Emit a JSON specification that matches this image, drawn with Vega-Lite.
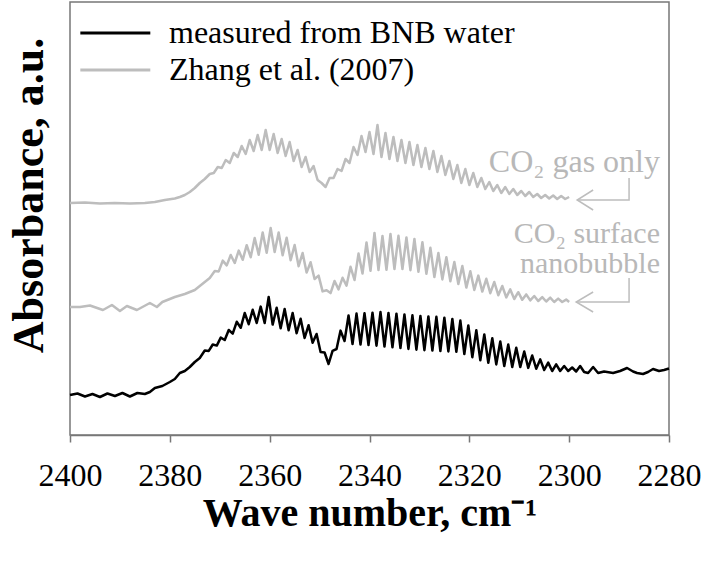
{
  "$schema": "https://vega.github.io/schema/vega-lite/v6.json",
  "width": 599,
  "height": 433,
  "autosize": {"type": "none"},
  "padding": {"left": 70, "top": 2, "right": 39, "bottom": 127},
  "background": "white",
  "config": {
    "font": "Liberation Serif",
    "axis": {"labelFont": "Liberation Serif", "titleFont": "Liberation Serif"},
    "legend": {"labelFont": "Liberation Serif"},
    "view": {"stroke": "#777777", "strokeWidth": 1.5}
  },
  "datasets": {
    "curves": [
      {"c":"g","w":2400,"a":232},{"c":"g","w":2397,"a":232.5},{"c":"g","w":2394,"a":231.5},{"c":"g","w":2391,"a":232},{"c":"g","w":2388,"a":231.5},{"c":"g","w":2385,"a":232},{"c":"g","w":2383,"a":233},{"c":"g","w":2381,"a":235},{"c":"g","w":2379,"a":236.5},{"c":"g","w":2378,"a":238},{"c":"g","w":2377,"a":240},{"c":"g","w":2376,"a":243},{"c":"g","w":2375,"a":247},{"c":"g","w":2374,"a":252},{"c":"g","w":2373,"a":256},
      {"c":"g","w":2372,"a":261},{"c":"g","w":2371.2,"a":262},{"c":"g","w":2370.4,"a":268},{"c":"g","w":2369.6,"a":267},{"c":"g","w":2368.8,"a":275},{"c":"g","w":2368,"a":272},{"c":"g","w":2367.2,"a":282},{"c":"g","w":2366.4,"a":278},{"c":"g","w":2365.6,"a":289},{"c":"g","w":2364.8,"a":281},{"c":"g","w":2364,"a":295},{"c":"g","w":2363.2,"a":284},{"c":"g","w":2362.4,"a":300},{"c":"g","w":2361.6,"a":285},{"c":"g","w":2360.8,"a":305},{"c":"g","w":2360,"a":285},{"c":"g","w":2359.2,"a":301},{"c":"g","w":2358.4,"a":282},{"c":"g","w":2357.6,"a":296},{"c":"g","w":2356.8,"a":279},{"c":"g","w":2356,"a":293},{"c":"g","w":2355.2,"a":274},{"c":"g","w":2354.4,"a":285},{"c":"g","w":2353.6,"a":268},{"c":"g","w":2352.8,"a":278},{"c":"g","w":2352,"a":263},{"c":"g","w":2351.2,"a":269},{"c":"g","w":2350.4,"a":255},{"c":"g","w":2349.6,"a":252},{"c":"g","w":2348.8,"a":248},{"c":"g","w":2348,"a":257},{"c":"g","w":2347.2,"a":257},{"c":"g","w":2346.4,"a":266},{"c":"g","w":2345.6,"a":264},{"c":"g","w":2344.8,"a":276},{"c":"g","w":2344,"a":272},{"c":"g","w":2343.2,"a":288},{"c":"g","w":2342.4,"a":280},{"c":"g","w":2341.6,"a":299},{"c":"g","w":2340.8,"a":283},{"c":"g","w":2340,"a":303},{"c":"g","w":2339.2,"a":281},{"c":"g","w":2338.4,"a":310},{"c":"g","w":2337.6,"a":278},{"c":"g","w":2336.8,"a":302},{"c":"g","w":2336,"a":276},{"c":"g","w":2335.2,"a":298},{"c":"g","w":2334.4,"a":274},{"c":"g","w":2333.6,"a":295},{"c":"g","w":2332.8,"a":272},{"c":"g","w":2332,"a":293},{"c":"g","w":2331.2,"a":270},{"c":"g","w":2330.4,"a":290},{"c":"g","w":2329.6,"a":268},{"c":"g","w":2328.8,"a":287},{"c":"g","w":2328,"a":266},{"c":"g","w":2327.2,"a":284},{"c":"g","w":2326.4,"a":263},{"c":"g","w":2325.6,"a":279},{"c":"g","w":2324.8,"a":260},{"c":"g","w":2324,"a":274},{"c":"g","w":2323.2,"a":256},{"c":"g","w":2322.4,"a":270},{"c":"g","w":2321.6,"a":252},{"c":"g","w":2320.8,"a":266},{"c":"g","w":2320,"a":250},{"c":"g","w":2319.2,"a":262},{"c":"g","w":2318.4,"a":248},{"c":"g","w":2317.6,"a":257},{"c":"g","w":2316.8,"a":246},{"c":"g","w":2316,"a":253},{"c":"g","w":2315.2,"a":244},{"c":"g","w":2314.4,"a":250},{"c":"g","w":2313.6,"a":242},{"c":"g","w":2312.8,"a":248},{"c":"g","w":2312,"a":241},{"c":"g","w":2311.2,"a":246},{"c":"g","w":2310.4,"a":240},{"c":"g","w":2309.6,"a":244},{"c":"g","w":2308.8,"a":239},{"c":"g","w":2308,"a":243},{"c":"g","w":2307.2,"a":238},{"c":"g","w":2306.4,"a":241},{"c":"g","w":2305.6,"a":237},{"c":"g","w":2304.8,"a":240},{"c":"g","w":2304,"a":236.5},{"c":"g","w":2303.2,"a":239.5},{"c":"g","w":2302.4,"a":236},{"c":"g","w":2301.6,"a":239},{"c":"g","w":2300.8,"a":236},{"c":"g","w":2300,"a":238},
      {"c":"n","w":2400,"a":128},{"c":"n","w":2398,"a":128},{"c":"n","w":2396,"a":129.5},{"c":"n","w":2393.4,"a":125},{"c":"n","w":2391.6,"a":130},{"c":"n","w":2390,"a":124},{"c":"n","w":2388.6,"a":129},{"c":"n","w":2386.6,"a":125},{"c":"n","w":2384,"a":132},{"c":"n","w":2382.6,"a":128},{"c":"n","w":2381.5,"a":133},{"c":"n","w":2379,"a":138},{"c":"n","w":2377,"a":141},{"c":"n","w":2375,"a":145},{"c":"n","w":2374,"a":149},{"c":"n","w":2373,"a":153},{"c":"n","w":2372,"a":157},
      {"c":"n","w":2371,"a":164},{"c":"n","w":2370.2,"a":163.6},{"c":"n","w":2369.4,"a":174.4},{"c":"n","w":2368.6,"a":169.6},{"c":"n","w":2367.8,"a":180},{"c":"n","w":2367,"a":172},{"c":"n","w":2366.2,"a":184.4},{"c":"n","w":2365.4,"a":175.2},{"c":"n","w":2364.6,"a":189.8},{"c":"n","w":2363.8,"a":177.8},{"c":"n","w":2363,"a":197},{"c":"n","w":2362.2,"a":180.2},{"c":"n","w":2361.4,"a":202.6},{"c":"n","w":2360.6,"a":182.2},{"c":"n","w":2359.8,"a":207},{"c":"n","w":2359,"a":183},{"c":"n","w":2358.2,"a":202.6},{"c":"n","w":2357.4,"a":179.8},{"c":"n","w":2356.6,"a":197.2},{"c":"n","w":2355.8,"a":174.8},{"c":"n","w":2355,"a":190},{"c":"n","w":2354.2,"a":168.8},{"c":"n","w":2353.4,"a":182},{"c":"n","w":2352.6,"a":162.4},{"c":"n","w":2351.8,"a":172.8},{"c":"n","w":2351,"a":156},{"c":"n","w":2350.2,"a":159.4},{"c":"n","w":2349.4,"a":143.6},{"c":"n","w":2348.6,"a":144.8},{"c":"n","w":2347.8,"a":141.9},{"c":"n","w":2347,"a":154},{"c":"n","w":2346.2,"a":145.6},{"c":"n","w":2345.4,"a":157.2},{"c":"n","w":2344.6,"a":149.4},{"c":"n","w":2343.8,"a":168.2},{"c":"n","w":2343,"a":155},{"c":"n","w":2342.2,"a":181.4},{"c":"n","w":2341.4,"a":161.4},{"c":"n","w":2340.6,"a":192.6},{"c":"n","w":2339.8,"a":164.2},{"c":"n","w":2339,"a":202},{"c":"n","w":2338.2,"a":165},{"c":"n","w":2337.4,"a":199},{"c":"n","w":2336.6,"a":165.2},{"c":"n","w":2335.8,"a":201},{"c":"n","w":2335,"a":166},{"c":"n","w":2334.2,"a":199.2},{"c":"n","w":2333.4,"a":166},{"c":"n","w":2332.6,"a":197.6},{"c":"n","w":2331.8,"a":164.8},{"c":"n","w":2331,"a":196},{"c":"n","w":2330.2,"a":163.2},{"c":"n","w":2329.4,"a":192.8},{"c":"n","w":2328.6,"a":161.2},{"c":"n","w":2327.8,"a":187.2},{"c":"n","w":2327,"a":158},{"c":"n","w":2326.2,"a":182},{"c":"n","w":2325.4,"a":155.6},{"c":"n","w":2324.6,"a":177.8},{"c":"n","w":2323.8,"a":153.8},{"c":"n","w":2323,"a":173},{"c":"n","w":2322.2,"a":151},{"c":"n","w":2321.4,"a":169},{"c":"n","w":2320.6,"a":147.4},{"c":"n","w":2319.8,"a":163.8},{"c":"n","w":2319,"a":145},{"c":"n","w":2318.2,"a":159.4},{"c":"n","w":2317.4,"a":143.4},{"c":"n","w":2316.6,"a":156.2},{"c":"n","w":2315.8,"a":141.8},{"c":"n","w":2315,"a":153},{"c":"n","w":2314.2,"a":139.8},{"c":"n","w":2313.4,"a":149},{"c":"n","w":2312.6,"a":137.6},{"c":"n","w":2311.8,"a":145.6},{"c":"n","w":2311,"a":136},{"c":"n","w":2310.2,"a":142.8},{"c":"n","w":2309.4,"a":135.2},{"c":"n","w":2308.6,"a":140.6},{"c":"n","w":2307.8,"a":134.6},{"c":"n","w":2307,"a":139},{"c":"n","w":2306.2,"a":134},{"c":"n","w":2305.4,"a":137.8},{"c":"n","w":2304.6,"a":133.5},{"c":"n","w":2303.8,"a":137.3},{"c":"n","w":2303,"a":133},{"c":"n","w":2302.2,"a":136.4},{"c":"n","w":2301.4,"a":133},{"c":"n","w":2300.6,"a":135.4},{"c":"n","w":2300,"a":133},
      {"c":"m","w":2400,"a":40},{"c":"m","w":2398.5,"a":41.5},{"c":"m","w":2397,"a":38.5},{"c":"m","w":2395.5,"a":41},{"c":"m","w":2394,"a":38},{"c":"m","w":2392.5,"a":41.5},{"c":"m","w":2391,"a":39},{"c":"m","w":2389.5,"a":42},{"c":"m","w":2388,"a":38.5},{"c":"m","w":2386.5,"a":42},{"c":"m","w":2385,"a":41},{"c":"m","w":2384,"a":43},{"c":"m","w":2383,"a":47},{"c":"m","w":2381.5,"a":49},{"c":"m","w":2380,"a":53},{"c":"m","w":2379,"a":56},{"c":"m","w":2378,"a":62},{"c":"m","w":2377,"a":64},{"c":"m","w":2376,"a":68},{"c":"m","w":2375,"a":73},{"c":"m","w":2374,"a":77},
      {"c":"m","w":2373,"a":84.5},{"c":"m","w":2372.2,"a":84.1},{"c":"m","w":2371.4,"a":90.5},{"c":"m","w":2370.6,"a":89.4},{"c":"m","w":2369.8,"a":97.4},{"c":"m","w":2369,"a":95},{"c":"m","w":2368.2,"a":105},{"c":"m","w":2367.4,"a":101.4},{"c":"m","w":2366.6,"a":113.2},{"c":"m","w":2365.8,"a":107.2},{"c":"m","w":2365,"a":122},{"c":"m","w":2364.2,"a":110.8},{"c":"m","w":2363.4,"a":125.2},{"c":"m","w":2362.6,"a":112},{"c":"m","w":2361.8,"a":128.4},{"c":"m","w":2361,"a":112},{"c":"m","w":2360.2,"a":138},{"c":"m","w":2359.4,"a":110.4},{"c":"m","w":2358.6,"a":127.2},{"c":"m","w":2357.8,"a":106.8},{"c":"m","w":2357,"a":126},{"c":"m","w":2356.2,"a":104.8},{"c":"m","w":2355.4,"a":122},{"c":"m","w":2354.6,"a":101.8},{"c":"m","w":2353.8,"a":116.2},{"c":"m","w":2353,"a":97},{"c":"m","w":2352.2,"a":109.8},{"c":"m","w":2351.4,"a":92.2},{"c":"m","w":2350.6,"a":101},{"c":"m","w":2349.8,"a":83},{"c":"m","w":2349,"a":82.5},{"c":"m","w":2348.2,"a":71},{"c":"m","w":2347.4,"a":84.2},{"c":"m","w":2346.6,"a":86},{"c":"m","w":2345.8,"a":104.4},{"c":"m","w":2345,"a":94},{"c":"m","w":2344.2,"a":119.6},{"c":"m","w":2343.4,"a":90.9},{"c":"m","w":2342.6,"a":121.4},{"c":"m","w":2341.8,"a":90.5},{"c":"m","w":2341,"a":121.8},{"c":"m","w":2340.2,"a":90},{"c":"m","w":2339.4,"a":122.3},{"c":"m","w":2338.6,"a":89.3},{"c":"m","w":2337.8,"a":122.9},{"c":"m","w":2337,"a":88.5},{"c":"m","w":2336.2,"a":122.1},{"c":"m","w":2335.4,"a":87.7},{"c":"m","w":2334.6,"a":121.3},{"c":"m","w":2333.8,"a":86.9},{"c":"m","w":2333,"a":120.5},{"c":"m","w":2332.2,"a":86.1},{"c":"m","w":2331.4,"a":119.7},{"c":"m","w":2330.6,"a":85.3},{"c":"m","w":2329.8,"a":119},{"c":"m","w":2329,"a":84.8},{"c":"m","w":2328.2,"a":118.5},{"c":"m","w":2327.4,"a":84.4},{"c":"m","w":2326.6,"a":118.2},{"c":"m","w":2325.8,"a":84},{"c":"m","w":2325,"a":117.3},{"c":"m","w":2324.2,"a":83.6},{"c":"m","w":2323.4,"a":116},{"c":"m","w":2322.6,"a":83.2},{"c":"m","w":2321.8,"a":114.4},{"c":"m","w":2321,"a":81},{"c":"m","w":2320.2,"a":109.6},{"c":"m","w":2319.4,"a":77.8},{"c":"m","w":2318.6,"a":104.8},{"c":"m","w":2317.8,"a":74.7},{"c":"m","w":2317,"a":100.5},{"c":"m","w":2316.2,"a":72.3},{"c":"m","w":2315.4,"a":96.8},{"c":"m","w":2314.6,"a":70.6},{"c":"m","w":2313.8,"a":93.6},{"c":"m","w":2313,"a":69},{"c":"m","w":2312.2,"a":90.4},{"c":"m","w":2311.4,"a":68},{"c":"m","w":2310.6,"a":87.2},{"c":"m","w":2309.8,"a":67.9},{"c":"m","w":2309,"a":83.5},{"c":"m","w":2308.2,"a":67.1},{"c":"m","w":2307.4,"a":79.5},{"c":"m","w":2306.6,"a":66.3},{"c":"m","w":2305.8,"a":75.6},{"c":"m","w":2305,"a":65},{"c":"m","w":2304.2,"a":72.4},{"c":"m","w":2303.4,"a":64},{"c":"m","w":2302.6,"a":70.6},{"c":"m","w":2301.8,"a":64},{"c":"m","w":2301,"a":69},{"c":"m","w":2300.2,"a":64},{"c":"m","w":2299.4,"a":67.5},{"c":"m","w":2298.6,"a":63.5},{"c":"m","w":2297.8,"a":69},{"c":"m","w":2297,"a":63},{"c":"m","w":2296.2,"a":62},{"c":"m","w":2295.2,"a":68},{"c":"m","w":2294.2,"a":62},{"c":"m","w":2293,"a":63.5},{"c":"m","w":2291.2,"a":62},{"c":"m","w":2289.8,"a":64},{"c":"m","w":2288.4,"a":67},{"c":"m","w":2287.2,"a":63.5},{"c":"m","w":2286.4,"a":62},{"c":"m","w":2285.2,"a":61},{"c":"m","w":2284.2,"a":63},{"c":"m","w":2283.2,"a":66},{"c":"m","w":2282,"a":64},{"c":"m","w":2281,"a":65},{"c":"m","w":2280,"a":66.5}
    ],
    "arrows": [
      {"k":"g1","o":1,"w":2288.0,"a":257},{"k":"g1","o":2,"w":2288.0,"a":235},{"k":"g1","o":3,"w":2298.4,"a":235},
      {"k":"g2","o":1,"w":2295.2,"a":245},{"k":"g2","o":2,"w":2298.4,"a":235},{"k":"g2","o":3,"w":2295.2,"a":225},
      {"k":"n1","o":1,"w":2288.0,"a":157},{"k":"n1","o":2,"w":2288.0,"a":133},{"k":"n1","o":3,"w":2298.6,"a":133},
      {"k":"n2","o":1,"w":2295.2,"a":143},{"k":"n2","o":2,"w":2298.6,"a":133},{"k":"n2","o":3,"w":2295.2,"a":123}
    ],
    "notes": [
      {"t":"CO₂ gas only","w":2281.8,"a":263,"f":32},
      {"t":"CO₂ surface\nnanobubble","w":2281.8,"a":192,"f":30}
    ]
  },
  "encoding": {
    "x": {
      "field": "w",
      "type": "quantitative",
      "scale": {"domain": [2280, 2400], "reverse": true, "nice": false, "zero": false},
      "axis": {
        "values": [2400, 2380, 2360, 2340, 2320, 2300, 2280],
        "format": "d",
        "grid": false,
        "labelFont": "Liberation Serif",
        "labelFontSize": 32,
        "labelColor": "#000000",
        "labelFlush": false,
        "labelOverlap": false,
        "labelBound": false,
        "labelPadding": 18,
        "tickSize": 7,
        "tickColor": "#777777",
        "tickWidth": 1.5,
        "domainColor": "#777777",
        "domainWidth": 1.5,
        "title": "Wave number, cm⁻¹",
        "titleFont": "Liberation Serif",
        "titleFontSize": 40,
        "titleFontWeight": "bold",
        "titleColor": "#000000",
        "titlePadding": 2
      }
    },
    "y": {
      "field": "a",
      "type": "quantitative",
      "scale": {"domain": [0, 433], "nice": false, "zero": false},
      "axis": {
        "labels": false,
        "ticks": false,
        "domain": false,
        "grid": false,
        "title": "Absorbance, a.u.",
        "titleFont": "Liberation Serif",
        "titleFontSize": 44,
        "titleFontWeight": "bold",
        "titleColor": "#000000",
        "titlePadding": 19,
        "titleY": 193
      }
    }
  },
  "layer": [
    {
      "data": {"name": "curves"},
      "mark": {"type": "line", "strokeWidth": 2.5, "strokeJoin": "round"},
      "encoding": {
        "color": {
          "field": "c",
          "type": "nominal",
          "scale": {"domain": ["m", "g", "n"], "range": ["#000000", "#bdbdbd", "#bdbdbd"]},
          "legend": {
            "orient": "none",
            "legendX": 6,
            "legendY": 15,
            "values": ["m", "g"],
            "title": null,
            "labelExpr": "datum.value == 'm' ? 'measured from BNB water' : 'Zhang et al. (2007)'",
            "labelFont": "Liberation Serif",
            "labelFontSize": 32,
            "labelColor": "#000000",
            "labelLimit": 600,
            "labelOffset": 61,
            "symbolType": "M-1,0H5",
            "symbolSize": 544,
            "symbolStrokeWidth": 3,
            "rowPadding": 5
          }
        },
        "detail": {"field": "c"}
      }
    },
    {
      "data": {"name": "arrows"},
      "mark": {"type": "line", "color": "#bdbdbd", "strokeWidth": 1.5},
      "encoding": {
        "detail": {"field": "k"},
        "order": {"field": "o", "type": "quantitative"}
      }
    },
    {
      "data": {"name": "notes"},
      "mark": {"type": "text", "align": "right", "baseline": "alphabetic", "font": "Liberation Serif", "lineBreak": "\n", "lineHeight": 30, "color": "#b8b8b8"},
      "encoding": {
        "text": {"field": "t"},
        "size": {"field": "f", "type": "quantitative", "scale": null}
      }
    }
  ]
}
